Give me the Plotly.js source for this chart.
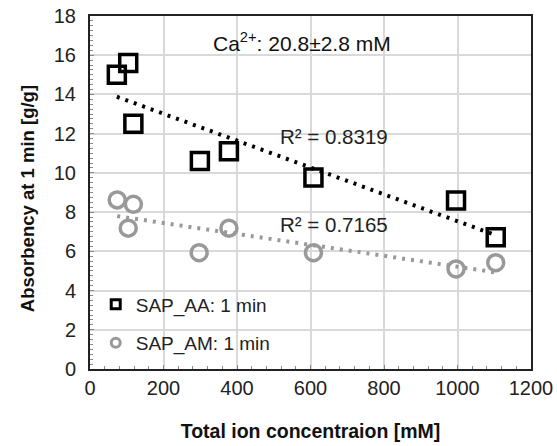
<!DOCTYPE html>
<html><head><meta charset="utf-8">
<script src="https://cdn.plot.ly/plotly-3.0.1.min.js"></script>
<style>body{margin:0;background:#fff}#c{width:557px;height:446px}</style>
</head><body><div id="c"></div>
<script>
const xAA = [73, 104, 118, 299, 378, 608, 996, 1104];
const yAA = [15.0, 15.6, 12.5, 10.6, 11.1, 9.76, 8.59, 6.72];
const xAM = [74, 118, 104, 297, 378, 608, 996, 1104];
const yAM = [8.62, 8.40, 7.18, 5.93, 7.18, 5.93, 5.10, 5.42];
const seriesNames = ['SAP_AA: 1 min', 'SAP_AM: 1 min'];
const r2Labels = ['R² = 0.8319', 'R² = 0.7165'];
const noteText = 'Ca<sup>2+</sup>: 20.8±2.8 mM';
const xTitle = 'Total ion concentraion [mM]';
const yTitle = 'Absorbency at 1 min [g/g]';

function fit(xs, ys){
  const n = xs.length;
  const mx = xs.reduce((a,b)=>a+b,0)/n, my = ys.reduce((a,b)=>a+b,0)/n;
  let sxy=0,sxx=0;
  for(let i=0;i<n;i++){sxy+=(xs[i]-mx)*(ys[i]-my);sxx+=(xs[i]-mx)**2;}
  const m=sxy/sxx, b=my-m*mx;
  const x0=Math.min(...xs), x1=Math.max(...xs);
  return {x:[x0,x1], y:[m*x0+b, m*x1+b]};
}
const fAA = fit(xAA,yAA), fAM = fit(xAM,yAM);
const black='#000', gray='#999';
const font = 'Arial, "Liberation Sans", sans-serif';

const traces = [
  {x:fAA.x, y:fAA.y, mode:'lines', line:{color:black,width:4,dash:'3px,6px'}, showlegend:false, hoverinfo:'skip'},
  {x:fAM.x, y:fAM.y, mode:'lines', line:{color:gray,width:4,dash:'3px,6px'}, showlegend:false, hoverinfo:'skip'},
  {x:xAA, y:yAA, mode:'markers', marker:{symbol:'square-open', size:17, color:black, line:{width:3.5}}, showlegend:false},
  {x:xAM, y:yAM, mode:'markers', marker:{symbol:'circle-open', size:16, color:gray, line:{width:3.5}}, showlegend:false},
  {x:[null], y:[null], mode:'markers', name:seriesNames[0], legendgroup:'a', marker:{symbol:'square-open', size:9, color:black, line:{width:3}}},
  {x:[null], y:[null], mode:'markers', name:seriesNames[1], legendgroup:'b', marker:{symbol:'circle-open', size:9, color:gray, line:{width:3}}}
];

const axCommon = {
  showline:true, linecolor:'#222', linewidth:2, mirror:true,
  showgrid:true, gridcolor:'#d9d9d9', gridwidth:2,
  ticks:'inside', ticklen:4, tickcolor:'#888', tickwidth:1,
  zeroline:false, tickfont:{size:20, color:'#222', family:font}
};

const layout = {
  width:557, height:446,
  margin:{l:90, r:26, t:16, b:77},
  paper_bgcolor:'#fff', plot_bgcolor:'#fff',
  font:{family:font, color:'#222'},
  xaxis:Object.assign({}, axCommon, {
    range:[0,1200], dtick:200, tick0:0,
    minor:{dtick:40, ticks:'inside', ticklen:3, tickcolor:'#888', showgrid:false},
    title:{text:'<b>'+xTitle+'</b>', font:{size:19.5, color:'#111', family:font}, standoff:26}
  }),
  yaxis:Object.assign({}, axCommon, {
    range:[0,18], dtick:2, tick0:0, ticklabelstandoff:8,
    minor:{dtick:0.25, ticks:'inside', ticklen:3, tickcolor:'#888', showgrid:false}
  }),
  legend:{x:0.013, y:0.019, xanchor:'left', yanchor:'bottom', bgcolor:'rgba(0,0,0,0)',
    font:{size:19, color:'#222', family:font}, traceorder:'grouped', tracegroupgap:11},
  annotations:[
    {x:-0.1429, y:0.484, xref:'paper', yref:'paper', xanchor:'center', yanchor:'middle', textangle:-90,
      text:'<b>'+yTitle+'</b>', showarrow:false, font:{size:18.5, color:'#111', family:font}},
    {x:577, y:16.66, xref:'x', yref:'y', text:noteText, showarrow:false, font:{size:21, color:'#111', family:font}},
    {x:665, y:11.84, xref:'x', yref:'y', text:r2Labels[0], showarrow:false, font:{size:20.5, color:'#222', family:font}},
    {x:665, y:7.35, xref:'x', yref:'y', text:r2Labels[1], showarrow:false, font:{size:20.5, color:'#222', family:font}}
  ],
  showlegend:true
};
Plotly.newPlot('c', traces, layout, {displayModeBar:false, staticPlot:true});
</script></body></html>
